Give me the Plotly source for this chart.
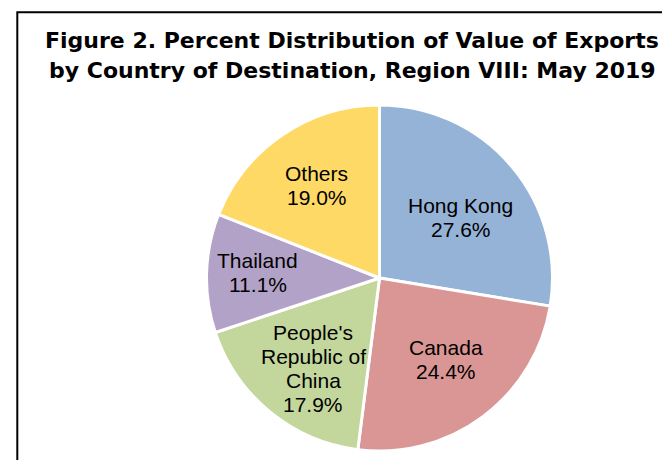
import math
import plotly.graph_objects as go

countries = ["Hong Kong", "Canada", "People's Republic of China", "Thailand", "Others"]
label_lines = [["Hong Kong"], ["Canada"], ["People's", "Republic of", "China"], ["Thailand"], ["Others"]]
shares = [27.6, 24.4, 17.9, 11.1, 19.0]
colors = ["#95B3D7", "#D99694", "#C3D69B", "#B3A2C7", "#FFD966"]
title_lines = ["Figure 2. Percent Distribution of Value of Exports",
               "by Country of Destination, Region VIII: May 2019"]

# styling / layout (pixels in figure coordinates)
W, H = 670, 460
cx, cy, r = 371.5, 270, 173
label_radius = [0.59, 0.61, 0.65, 0.71, 0.65]
label_angle_nudge = [3.5, -2.7, -3.1, 1.0, 0.0]  # degrees
line_gap = 24
lab_font = dict(family="Liberation Sans, Arial", size=21, color="black")

fig = go.Figure(go.Pie(
    labels=countries,
    values=shares,
    sort=False,
    direction="clockwise",
    rotation=0,
    marker=dict(colors=colors, line=dict(color="white", width=3)),
    textinfo="none",
    domain=dict(x=[(cx - r) / W, (cx + r) / W], y=[(H - cy - r) / H, (H - cy + r) / H]),
    showlegend=False,
    hoverinfo="label+percent",
))

# labels placed along each slice's bisector
total = sum(shares)
cum = 0.0
annotations = []
for lines, v, frac, nudge in zip(label_lines, shares, label_radius, label_angle_nudge):
    mid = (cum + v / 2) / total * 2 * math.pi + math.radians(nudge)
    cum += v
    px = cx + frac * 172 * math.sin(mid)
    py = cy - frac * 172 * math.cos(mid)
    all_lines = lines + [f"{v:.1f}%"]
    n = len(all_lines)
    for i, t in enumerate(all_lines):
        off = (i - (n - 1) / 2) * line_gap
        annotations.append(dict(text=t, xref="paper", yref="paper",
                                x=px / W, y=1 - (py + off) / H,
                                xanchor="center", yanchor="middle",
                                showarrow=False, font=lab_font))

for i, t in enumerate(title_lines):
    annotations.append(dict(text="<b>" + t + "</b>", xref="paper", yref="paper",
                            x=344 / W, y=1 - (32 + 31 * i) / H,
                            xanchor="center", yanchor="middle", showarrow=False,
                            font=dict(family="DejaVu Sans", size=22, color="black")))

fig.add_shape(type="rect", xref="paper", yref="paper",
              x0=9.3 / W, x1=1.05, y0=-0.05, y1=1 - 4.3 / H,
              line=dict(color="black", width=2))

fig.update_layout(width=W, height=H, margin=dict(l=0, r=0, t=0, b=0),
                  paper_bgcolor="white", plot_bgcolor="white",
                  annotations=annotations)
fig.write_html("out.html")
